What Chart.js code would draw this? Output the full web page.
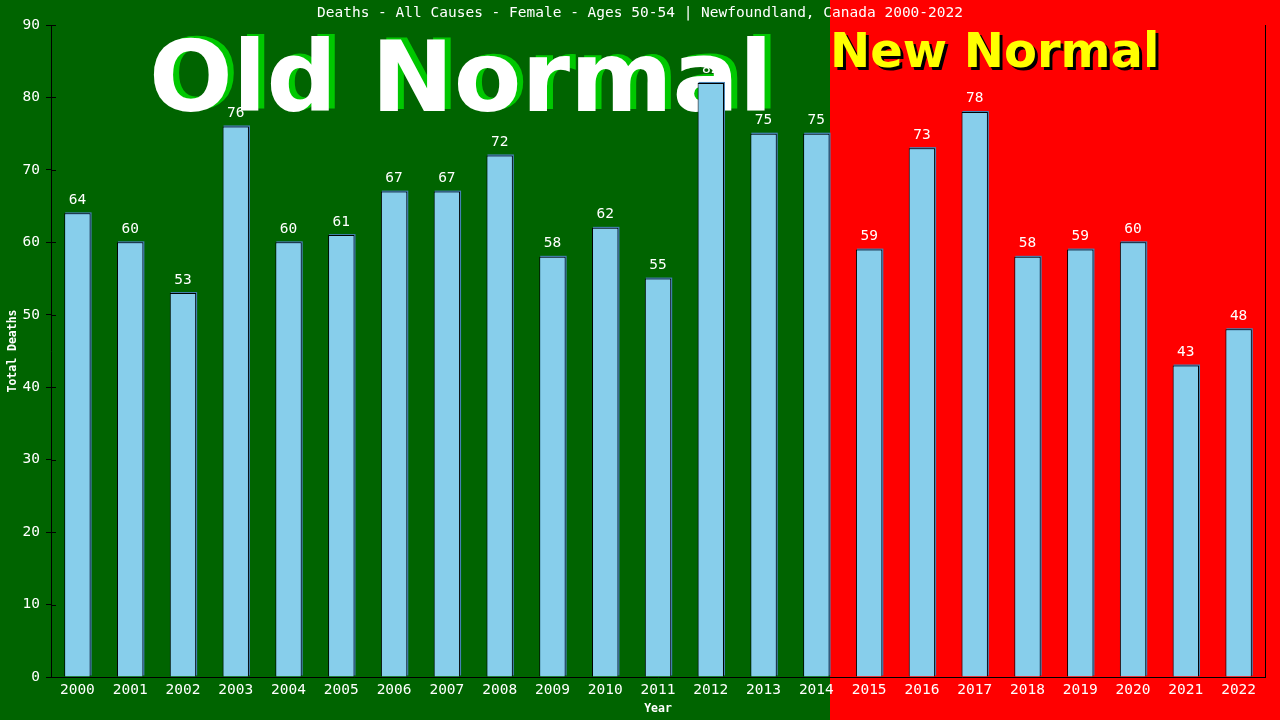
<!DOCTYPE html>
<html><head><meta charset="utf-8">
<script src="https://cdn.jsdelivr.net/npm/chart.js@4/dist/chart.umd.min.js"></script>
<style>html,body{margin:0;padding:0;background:#006400;overflow:hidden}</style>
</head><body>
<canvas id="c" width="1280" height="720"></canvas>
<script>
const years = ['2000','2001','2002','2003','2004','2005','2006','2007','2008','2009','2010','2011','2012','2013','2014','2015','2016','2017','2018','2019','2020','2021','2022'];
const deaths = [64,60,53,76,60,61,67,67,72,58,62,55,82,75,75,59,73,78,58,59,60,43,48];
const yMin = 0, yMax = 90, yStep = 10;
const chartTitle = 'Deaths - All Causes - Female - Ages 50-54 | Newfoundland, Canada 2000-2022';
const yAxisTitle = 'Total Deaths';
const xAxisTitle = 'Year';
const lastOldNormalYear = '2014';
const oldLabel = 'Old Normal';
const newLabel = 'New Normal';

const MONO = "'DejaVu Sans Mono', 'Liberation Mono', monospace";
const SANS = "'DejaVu Sans', Verdana, sans-serif";

function splitX(chart) {
  const meta = chart.getDatasetMeta(0);
  const i = years.indexOf(lastOldNormalYear);
  const el = meta.data[i];
  return Math.round(el.x + el.width / 2);
}

const decor = {
  id: 'decor',
  beforeDraw(chart) {
    const ctx = chart.ctx, W = chart.width, H = chart.height;
    const sx = splitX(chart);
    ctx.save();
    ctx.fillStyle = '#006400';
    ctx.fillRect(0, 0, sx, H);
    ctx.fillStyle = '#ff0000';
    ctx.fillRect(sx, 0, W - sx, H);
    ctx.fillStyle = '#ffffff';
    ctx.font = '14.5px ' + MONO;
    ctx.textAlign = 'center';
    ctx.textBaseline = 'middle';
    ctx.fillText(chartTitle, W / 2, 13);
    ctx.restore();
  },
  beforeDatasetsDraw(chart) {
    const ctx = chart.ctx;
    const sx = splitX(chart);
    ctx.save();
    ctx.font = 'bold 98.5px ' + SANS;
    ctx.textAlign = 'left';
    ctx.textBaseline = 'alphabetic';
    const ox = 149, oy = 111;
    ctx.fillStyle = '#00c800';
    ctx.fillText(oldLabel, ox + 6, oy - 2);
    ctx.fillStyle = '#ffffff';
    ctx.fillText(oldLabel, ox, oy);
    ctx.font = 'bold 48px ' + SANS;
    const nx = sx, ny = 67;
    ctx.fillStyle = '#000000';
    ctx.fillText(newLabel, nx + 3, ny + 3);
    ctx.fillStyle = '#ffff00';
    ctx.fillText(newLabel, nx, ny);
    const meta = chart.getDatasetMeta(0);
    ctx.fillStyle = '#4682b4';
    meta.data.forEach(el => {
      const w = el.width;
      ctx.fillRect(el.x - w / 2 + 1, el.y - 1, w, el.base - el.y);
    });
    ctx.restore();
  },
  afterDatasetsDraw(chart) {
    const ctx = chart.ctx;
    const meta = chart.getDatasetMeta(0);
    ctx.save();
    ctx.fillStyle = '#ffffff';
    ctx.font = '14.5px ' + MONO;
    ctx.textAlign = 'center';
    ctx.textBaseline = 'bottom';
    meta.data.forEach((el, i) => {
      ctx.fillText(String(deaths[i]), el.x, el.y - 6);
    });
    ctx.restore();
  },
  afterDraw(chart) {
    const ctx = chart.ctx, ca = chart.chartArea;
    const ys = chart.scales.y;
    ctx.save();
    ctx.strokeStyle = '#000000';
    ctx.lineWidth = 1;
    ctx.beginPath();
    ctx.moveTo(ca.right + 0.5, ca.top);
    ctx.lineTo(ca.right + 0.5, ca.bottom);
    ys.ticks.forEach(t => {
      const py = Math.round(ys.getPixelForValue(t.value)) + 0.5;
      ctx.moveTo(ca.left, py);
      ctx.lineTo(ca.left + 5, py);
    });
    ctx.moveTo(ca.left - 5, ca.bottom + 0.5);
    ctx.lineTo(ca.left, ca.bottom + 0.5);
    ctx.stroke();
    ctx.restore();
  }
};

new Chart(document.getElementById('c'), {
  type: 'bar',
  data: {
    labels: years,
    datasets: [{
      data: deaths,
      backgroundColor: '#87ceeb',
      borderColor: '#000000',
      borderWidth: 1,
      borderSkipped: 'bottom',
      categoryPercentage: 1.0,
      barPercentage: 0.5
    }]
  },
  options: {
    responsive: false,
    devicePixelRatio: 1,
    animation: false,
    layout: { padding: { top: 25, right: 15, left: 0, bottom: 0 } },
    plugins: { legend: { display: false }, title: { display: false }, tooltip: { enabled: false } },
    scales: {
      x: {
        afterFit(s) { s.height = 43; },
        grid: { display: true, drawOnChartArea: false, drawTicks: false, color: '#000000' },
        border: { display: true, color: '#000000', width: 1 },
        ticks: { color: '#ffffff', font: { family: MONO, size: 14.5 }, padding: 5, maxRotation: 0, autoSkip: false },
        title: { display: true, text: xAxisTitle, color: '#ffffff', font: { family: MONO, size: 11.5, weight: 'bold' }, padding: { top: 0, bottom: 4 } }
      },
      y: {
        min: yMin, max: yMax,
        afterFit(s) { s.width = 51; },
        grid: { display: true, drawOnChartArea: false, drawTicks: true, tickLength: 5, color: '#000000' },
        border: { display: true, color: '#000000', width: 1 },
        ticks: { stepSize: yStep, color: '#ffffff', font: { family: MONO, size: 14.5 }, padding: 6 },
        title: { display: true, text: yAxisTitle, color: '#ffffff', font: { family: MONO, size: 11.5, weight: 'bold' }, padding: { top: 6, bottom: 0 } }
      }
    }
  },
  plugins: [decor]
});
</script>
</body></html>
